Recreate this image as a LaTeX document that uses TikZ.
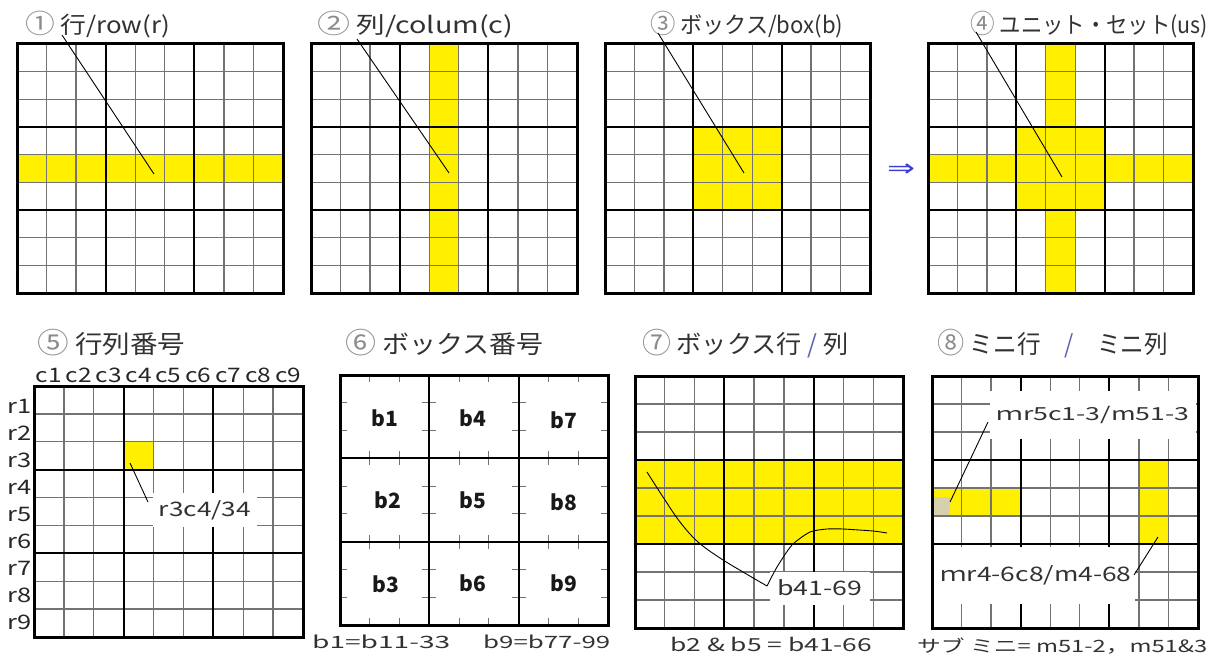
\documentclass[tikz,border=0pt]{standalone}
\usepackage{fontspec}
\usepackage{graphicx}
\setmainfont{Noto Sans CJK JP}
\newfontfamily\symfont{DejaVu Sans}
\newcommand{\fitx}[2]{\resizebox{#1}{\height}{#2}}
\newcommand{\cnum}[1]{\textcolor{cgray}{\scalebox{1.15}{#1}}}
\definecolor{yel}{RGB}{255,240,0}
\definecolor{thing}{RGB}{115,115,115}
\definecolor{tgray}{RGB}{50,50,50}
\definecolor{cgray}{RGB}{140,140,140}
\definecolor{arrowblue}{RGB}{60,60,210}
\definecolor{patch}{RGB}{215,208,175}
\tikzset{
  thinl/.style={draw=thing, line width=1.3pt},
  boxl/.style={draw=black, line width=2pt},
  borderl/.style={draw=black, line width=3pt},
  leader/.style={draw=black, line width=0.9pt},
  tickl/.style={draw=thing, line width=1.2pt},
  title/.style={anchor=base west, inner sep=0, text=tgray},
  lab/.style={fill=white, inner sep=0, text=tgray},
  captxt/.style={anchor=base west, inner sep=0, text=tgray},
  bl/.style={inner sep=0, text=black!90, font=\bfseries\fontsize{21}{21}\selectfont}
}
\newcommand{\sgrid}[4]{%
  \foreach \i in {1,2,4,5,7,8}{%
    \draw[thinl] ({#1+(#3-#1)*\i/9},#2) -- ({#1+(#3-#1)*\i/9},#4);
    \draw[thinl] (#1,{#2+(#4-#2)*\i/9}) -- (#3,{#2+(#4-#2)*\i/9});}}
\newcommand{\bgrid}[4]{%
  \foreach \i in {3,6}{%
    \draw[boxl] ({#1+(#3-#1)*\i/9},#2) -- ({#1+(#3-#1)*\i/9},#4);
    \draw[boxl] (#1,{#2+(#4-#2)*\i/9}) -- (#3,{#2+(#4-#2)*\i/9});}}
\newcommand{\brd}[4]{\draw[borderl] (#1,#2) rectangle (#3,#4);}
\begin{document}
\begin{tikzpicture}[x=1pt,y=-1pt]
\fill[white] (0,0) rectangle (1213,661);
\useasboundingbox (0,0) rectangle (1213,661);

% ---------- Titles top ----------
\node[title] (t1) at (25,34) {\fontsize{23}{26}\selectfont\fitx{145pt}{\cnum{①} 行/row(r)}};
\node[title] (t2) at (317,34) {\fontsize{23}{26}\selectfont\fitx{196pt}{\cnum{②} 列/colum(c)}};
\node[title] (t3) at (650,34) {\fontsize{23}{26}\selectfont\fitx{193pt}{\cnum{③} ボックス/box(b)}};
\node[title] (t4) at (970,34) {\fontsize{23}{26}\selectfont\fitx{238pt}{\cnum{④} ユニット・セット(us)}};

% ---------- Grid 1 ----------
\fill[yel] (17,{44+249*4/9}) rectangle (283,{44+249*5/9});
\sgrid{17}{44}{283}{293}\bgrid{17}{44}{283}{293}\brd{17}{44}{283}{293}
\coordinate (g1a) at (62,35); \coordinate (g1b) at (154,174);
\draw[leader] (g1a) -- (g1b);

% ---------- Grid 2 ----------
\fill[yel] ({311+266*4/9},44) rectangle ({311+266*5/9},293);
\sgrid{311}{44}{577}{293}\bgrid{311}{44}{577}{293}\brd{311}{44}{577}{293}
\coordinate (g2a) at (357,39); \coordinate (g2b) at (449,173);
\draw[leader] (g2a) -- (g2b);

% ---------- Grid 3 ----------
\fill[yel] ({605+265*3/9},{44+249*3/9}) rectangle ({605+265*6/9},{44+249*6/9});
\sgrid{605}{44}{870}{293}\bgrid{605}{44}{870}{293}\brd{605}{44}{870}{293}
\coordinate (g3a) at (658,33); \coordinate (g3b) at (744,173);
\draw[leader] (g3a) -- (g3b);

% arrow
\node[inner sep=0, text=arrowblue] (arr) at (901,170) {\symfont\fontsize{24}{24}\selectfont\fitx{28pt}{⇒}};

% ---------- Grid 4 ----------
\fill[yel] (928,{44+249*4/9}) rectangle (1193,{44+249*5/9});
\fill[yel] ({928+265*4/9},44) rectangle ({928+265*5/9},293);
\fill[yel] ({928+265*3/9},{44+249*3/9}) rectangle ({928+265*6/9},{44+249*6/9});
\sgrid{928}{44}{1193}{293}\bgrid{928}{44}{1193}{293}\brd{928}{44}{1193}{293}
\coordinate (g4a) at (976,32); \coordinate (g4b) at (1062,177);
\draw[leader] (g4a) -- (g4b);

% ---------- Titles bottom ----------
\node[title] (t5) at (37,353) {\fontsize{25}{28}\selectfont\fitx{148pt}{\cnum{⑤} 行列番号}};
\node[title] (t6) at (345,353) {\fontsize{25}{28}\selectfont\fitx{198pt}{\cnum{⑥} ボックス番号}};
\node[title] (t7) at (642,353) {\fontsize{25}{28}\selectfont\fitx{206pt}{\cnum{⑦} ボックス行 \textcolor{cgray!70!blue}{/} 列}};
\node[title] (t8) at (937,353) {\fontsize{25}{28}\selectfont\fitx{231pt}{\cnum{⑧} ミニ行　\textcolor{cgray!70!blue}{/}　ミニ列}};

% ---------- Panel 5 ----------
\fill[yel] ({34+269*3/9},{386+251*2/9}) rectangle ({34+269*4/9},{386+251*3/9});
\sgrid{34}{386}{303}{637}\bgrid{34}{386}{303}{637}
\foreach \i in {1,...,9}{%
  \node[anchor=base, inner sep=0, text=black!85] (c\i) at ({34+269*(\i-0.5)/9},382) {\fontsize{20}{20}\selectfont\fitx{26pt}{c\i}};
  \node[anchor=base east, inner sep=0, text=black!85] (r\i) at (32,{413+27.1*(\i-1)}) {\fontsize{20}{20}\selectfont\fitx{24pt}{r\i}};
}
\node[lab, minimum width=104pt, minimum height=34pt] (l5) at (205,510) {\fontsize{20}{20}\selectfont\fitx{92pt}{r3c4/34}};
\brd{34}{386}{303}{637}
\coordinate (p5a) at (130,463); \coordinate (p5b) at (148,502);
\draw[leader] (p5a) -- (p5b);

% ---------- Panel 6 ----------
\begin{scope}
  \clip (340,375) rectangle (608,625);
  \foreach \i in {1,2,4,5,7,8}{\foreach \j in {0,3,6,9}{%
    \draw[tickl] ({340+268*\i/9},{375+250*\j/9-7}) -- ({340+268*\i/9},{375+250*\j/9+7});
    \draw[tickl] ({340+268*\j/9-7},{375+250*\i/9}) -- ({340+268*\j/9+7},{375+250*\i/9});
  }}
\end{scope}
\foreach \i in {3,6}{%
  \draw[black, line width=1.8pt] ({340+268*\i/9},375) -- ({340+268*\i/9},625);
  \draw[black, line width=1.8pt] (340,{375+250*\i/9}) -- (608,{375+250*\i/9});
}
\brd{340}{375}{608}{625}
\node[bl] (b1) at (385,418) {b1};
\node[bl] (b4) at (473,418) {b4};
\node[bl] (b7) at (564,420) {b7};
\node[bl] (b2) at (388,500) {b2};
\node[bl] (b5) at (473,500) {b5};
\node[bl] (b8) at (564,502) {b8};
\node[bl] (b3) at (386,584) {b3};
\node[bl] (b6) at (473,583) {b6};
\node[bl] (b9) at (564,583) {b9};
\node[captxt] (cap6) at (312,648) {\fontsize{17}{17}\selectfont\fitx{138pt}{b1=b11-33}\hspace{33pt}\fitx{127pt}{b9=b77-99}};

% ---------- Panel 7 ----------
\fill[yel] (635,{376+252*3/9}) rectangle (903,{376+252*6/9});
\sgrid{635}{376}{903}{628}\bgrid{635}{376}{903}{628}
\node[lab, minimum width=100pt, minimum height=33pt] (l7) at (820,588) {\fontsize{20}{20}\selectfont\fitx{85pt}{b41-69}};
\brd{635}{376}{903}{628}
\coordinate (p7s) at (647,472); \coordinate (p7m) at (767,586); \coordinate (p7e) at (887,533);
\draw[leader] plot[smooth, tension=0.6] coordinates {(647,472) (663,497) (680,522) (698,542) (720,558) (743,572) (767,586)};
\draw[leader] plot[smooth, tension=0.4] coordinates {(767,586) (777,567) (792,545) (810,532) (827,529) (843,529) (873,531) (887,533)};
\node[captxt] (cap7) at (670,651) {\fontsize{18}{18}\selectfont\fitx{202pt}{b2 \& b5 = b41-66}};

% ---------- Panel 8 ----------
\fill[yel] (932,{376+252*4/9}) rectangle ({932+266*3/9},{376+252*5/9});
\fill[yel] ({932+266*7/9},{376+252*3/9}) rectangle ({932+266*8/9},{376+252*6/9});
\fill[patch] (933,497) rectangle (950,515);
\sgrid{932}{376}{1198}{628}\bgrid{932}{376}{1198}{628}
\node[lab, minimum width=206pt, minimum height=48pt] (l8a) at (1093,415) {\fontsize{18}{18}\selectfont\fitx{193pt}{ｍr5c1-3/m51-3}};
\node[lab, minimum width=203pt, minimum height=57pt] (l8b) at (1033,575.5) {\hspace{6pt}\fontsize{20}{20}\selectfont\fitx{191pt}{ｍr4-6c8/m4-68}};
\brd{932}{376}{1198}{628}
\coordinate (p8a) at (950,502); \coordinate (p8b) at (988,422);
\draw[leader] (p8a) -- (p8b);
\coordinate (p8c) at (1158,537); \coordinate (p8d) at (1134,575);
\draw[leader] (p8c) -- (p8d);
\node[captxt] (cap8) at (917,652) {\fontsize{17}{17}\selectfont\fitx{290pt}{サブ ミニ= m51-2，m51\&3}};
\end{tikzpicture}
\end{document}
